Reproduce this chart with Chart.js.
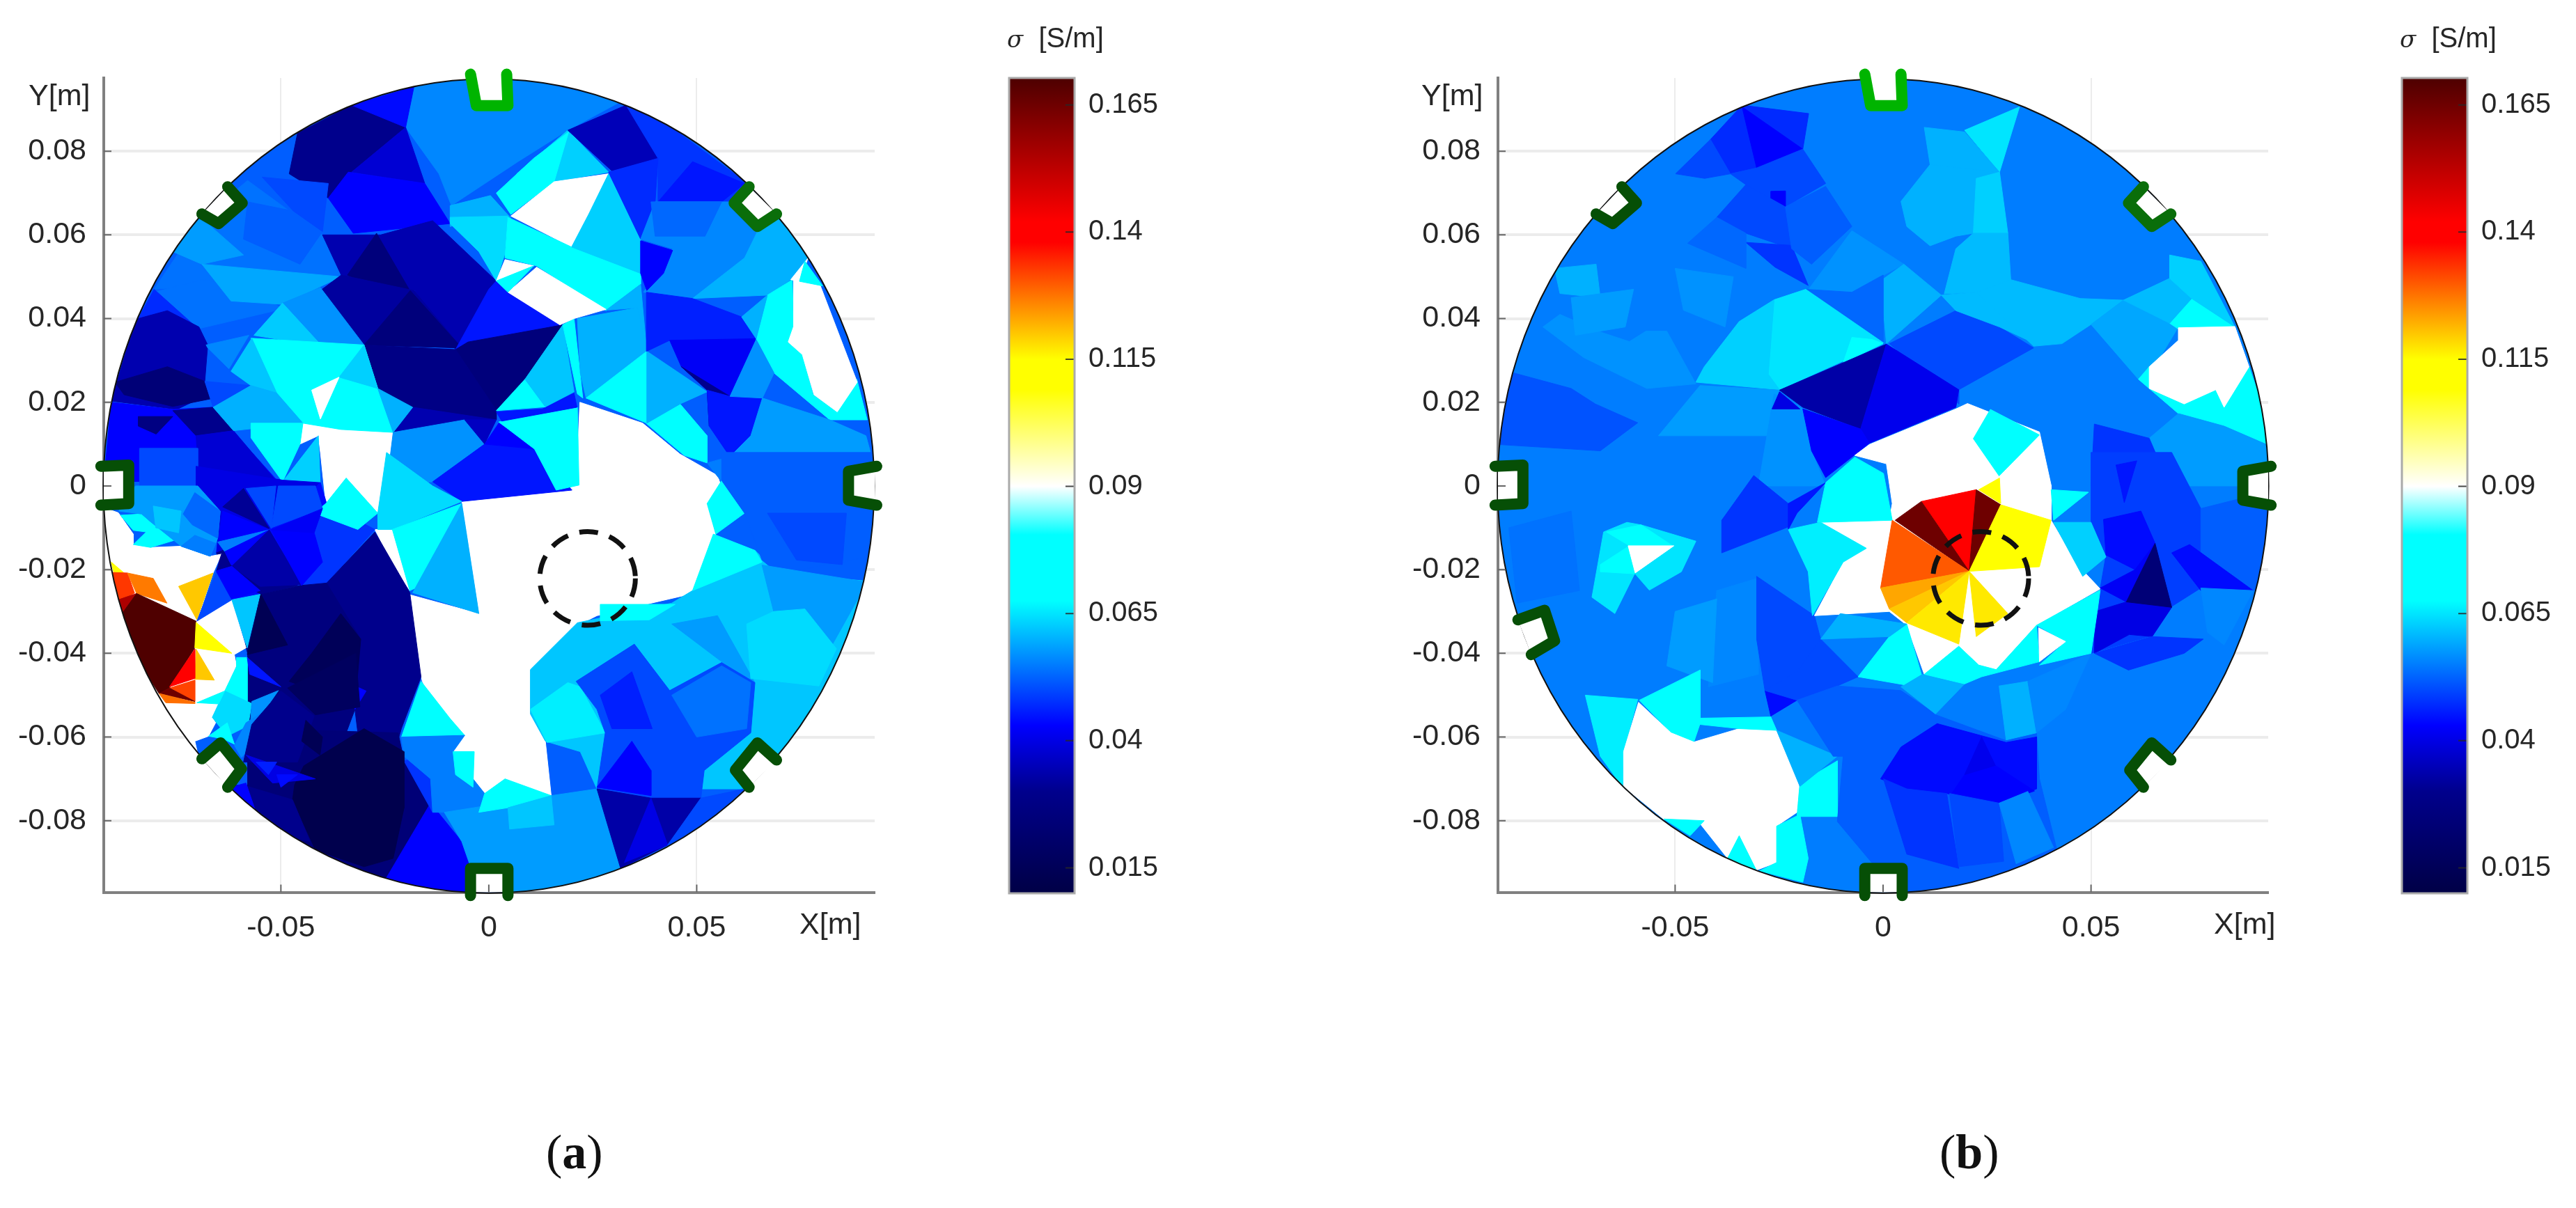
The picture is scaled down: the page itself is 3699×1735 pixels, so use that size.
<!DOCTYPE html>
<html>
<head>
<meta charset="utf-8">
<title>conductivity maps</title>
<script src="https://cdn.jsdelivr.net/npm/chart.js@4"></script>
<style>
  html, body { margin: 0; background: #fff; }
  #page { position: relative; width: 3699px; height: 1735px; overflow: hidden; }
  canvas { position: absolute; top: 0; }
  .lbl { position: absolute; font-family: "Liberation Sans", Arial, sans-serif; color: #262626; white-space: nowrap; line-height: 1; }
  .cap { position: absolute; font-family: "Liberation Serif", serif; font-size: 70px; color: #111; line-height: 1; }
</style>
</head>
<body>
<div id="page">
  <canvas id="mapA" width="1400" height="1400" style="left:0"></canvas>
  <canvas id="barA" width="300" height="1400" style="left:1400px"></canvas>
  <canvas id="mapB" width="1400" height="1400" style="left:2000px"></canvas>
  <canvas id="barB" width="300" height="1400" style="left:3400px"></canvas>

  <div class="lbl" style="left:41px;top:115px;font-size:43px">Y[m]</div>
  <div class="lbl" style="left:1148px;top:1305px;font-size:43px">X[m]</div>
  <div class="lbl" style="left:1446px;top:34px;font-size:40px"><i style="font-family:'DejaVu Serif';font-size:34px">σ</i>&nbsp; [S/m]</div>
  <div class="cap" style="left:784px;top:1620px">(<b>a</b>)</div>

  <div class="lbl" style="left:2041px;top:115px;font-size:43px">Y[m]</div>
  <div class="lbl" style="left:3179px;top:1305px;font-size:43px">X[m]</div>
  <div class="lbl" style="left:3446px;top:34px;font-size:40px"><i style="font-family:'DejaVu Serif';font-size:34px">σ</i>&nbsp; [S/m]</div>
  <div class="cap" style="left:2785px;top:1620px">(<b>b</b>)</div>
</div>

<script>
// axis ticks
const xTicks = [-0.05, 0, 0.05];
const yTicks = [-0.08, -0.06, -0.04, -0.02, 0, 0.02, 0.04, 0.06, 0.08];
const barTicks = [0.015, 0.04, 0.065, 0.09, 0.115, 0.14, 0.165];
const barRange = [0.01, 0.1703];

// colour scale [S/m]
const cmapValues = [0.01, 0.03, 0.043, 0.0675, 0.0805, 0.09, 0.109, 0.115, 0.138, 0.142, 0.1703];
const cmapColors = [[0,0,70],[0,0,140],[0,0,255],[0,255,255],[0,255,255],[255,255,255],[255,255,0],[255,255,0],[255,0,0],[255,0,0],[77,0,0]];

// mesh patches: [sigma S/m, x1,y1, x2,y2, ...] with x,y in mm, painted in this order
const sigmaBaseA = [0.052];
const sigmaBaseB = [0.055];

const whiteA = [
  [.09, 21.9,20, 37,15, 46,7.6, 55,2.5, 56,-.5, 52.5,-4.5, 54.5,-11.5, 50,-25.5, 26,-31, 20,-34, 10,-44.5, 10,-54.5, 13.6,-61, 15,-74, 3.9,-70, -1,-73.5, -3.8,-70, -3.8,-63.5, -8.6,-63.5, -5.8,-59.6, -12,-54.5, -16,-46.7, -18.3,-36.6, -19,-26, -2.4,-30.5, -6.5,-3.7, 21,.2],
  [.09, -44.7,15, -35.6,13.5, -23,12.8, -23.5,-2, -24.6,8, -26,-3, -26.7,-6.5, -34.3,1.9, -39.2,-4.2, -40.5,8, -41,12, -45.4,10],
  [.09, -27.4,-10.4, -23.2,-10.4, -19,-25, -23,-19],
];

const topA = [
  [.056, -18,96, 5,98, 32,92, 19,85, 7,77.5, -9,67, -12,74.6, -20,85.7],
  [.03, -33,91, -20,85.7, -33,75, -38.6,68.8, -48,74.6, -46,84.3],
  [.044, -33,91, -18,95.4, -20,85.7],
  [.038, -20,85.7, -15.4,72.3, -33,75],
  [.043, -33.8,75, -15.4,72.3, -9.3,62.7, -32.6,60.4, -38.6,68.8],
  [.054, -69,64, -80.5,47, -35.5,50.4, -40,60, -47,65, -58,73],
  [.054, -80.5,46.3, -69,49.3, -58,47.8, -49.6,42.3, -69.7,37.6, -84.3,39.6],
  [.058, -76,56, -69,53, -59,55.2, -67.6,62.7, -70.4,64.2],
  [.059, -69,53, -35.5,50, -49.6,43.4, -62,44.2],
  [.052, -47,65.7, -40,60.8, -45.4,53, -59,59, -58,67.9],
  [.05, -54.5,73.8, -38.6,72.3, -40,60.8, -47,65.7],
  [.034, -13.5,63.4, 1.8,49, -8,32.6, -17.9,46.7, -35.5,50.4, -40,60, -26,60],
  [.025, -27,60.4, -19,46.7, -27,47.4, -34,50.4],
  [.032, -40.5,46.7, -35.5,50.4, -18,46.7, -6.5,33, -30,33.7],
  [.025, -18.9,46.7, -6.5,33, -30,33.7],
  [.045, 1.8,49, 17.8,38.5, -5,34.4, -8,32.6, 0,47],
  [.025, -5,34.4, 17.8,38.5, 8.7,25.5, 1.8,18, -8,32.6],
  [.028, -30,33.7, -8,32.6, 1.8,18.1, 1.8,15.8, -18.3,18.8, -26.7,23.3],
  [.034, -18.3,18.8, 1.8,15.8, -23,12.8],
  [.047, -80.5,47, -84.3,40, -70.4,38],
  [.034, -84.3,40, -77.3,41.9, -69.7,38, -67.6,33.7, -68.3,25, -67.6,21.8, -75,18.3, -90.8,20.3, -86.6,34.4],
  [.024, -89.9,24.8, -77.3,28.5, -68.3,25, -67,20.8, -76,19, -87.7,21.8],
  [.043, -90.8,20, -76,18.3, -66.3,18.8, -61.4,12.9, -51,1.4, -92.6,1],
  [.027, -84.3,16.6, -76,16.6, -80,12.4, -84.3,14.3],
  [.03, -76,18, -66.3,18.8, -61.4,13.2, -70.4,12],
  [.038, -70.4,12, -61.4,13.2, -51,1, -69.7,1],
  [.05, -84,9, -70,9, -70,0, -84,0],
  [.056, -68,33.7, -57.7,36, -62.5,28, -67.6,33],
  [.057, -49.6,43.7, -40.5,47.4, -30,33.7, -40,33.3],
  [.0625, -56.5,36, -49.6,43.7, -40,33.3],
  [.072, -57.2,35.3, -30,33.7, -26.7,23.3, -23,12.8, -35.6,13.5, -44.7,15, -57.2,15, -51,22.2],
  [.063, -36,26, -30,33.7, -26.7,23.3],
  [.06, -26.7,23.3, -18.3,18.8, -23,12.8],
  [.09, -42.6,22.9, -36,26, -40.5,16],
  [.05, -68.3,25, -57.2,24, -66.3,18.8],
  [.062, -62,27.4, -57,35.3, -51,22.2, -57.2,24],
  [.06, -66.3,18.8, -57.2,24, -51,22.2, -44.7,15, -61.4,13.2],
  [.072, -57.2,15, -44.7,15, -45.4,10, -49.6,1, -57.2,11.5],
  [.063, -49.6,1, -41,12, -40.4,-3, -50,-3],
  [.057, -23,12.8, -5.8,15.8, -1,10, -13.5,1, -24.6,0],
  [.045, -1,10, 11.5,8.8, 20,-1, -6.5,-3.7, -13.5,1],
  [.036, -5.8,15.8, 1.8,15.8, -1,10],
  [.043, 2.4,15, 11.5,8.8, -1,10],
  [.072, 2.4,15.3, 21.3,18.8, 21.7,.2, 16.2,-1, 11,8.8],
  [.045, 1.8,17.7, 12.9,18.4, 20.5,22.2, 21.2,18.8, 3.1,15.5],
  [.07, 1.8,18, 8.7,25.5, 13.6,18.9],
  [.062, 8.7,25.5, 17.8,38.5, 20.5,22.5, 13.6,18.9],
  [.072, 17.8,38.5, 20.5,40, 22.6,21, 21.3,22],
  [.06, 21.3,40, 35.8,42.6, 38,32.2, 23.4,21, 22,27],
  [.072, 23.4,21, 38,32.2, 38,15],
  [.07, 37.8,15, 46,19.6, 52.5,12, 52.5,5.5, 47,7.3],
  [.06, 38,32.2, 52.5,22.5, 46,19.6, 38,15],
  [.063, 19,85, 28.8,75, 15.7,72.7, 6.7,74.6],
  [.07, 10.8,78.3, 19.2,84.6, 15.7,72.7, 5.3,64.9, 1.8,70],
  [.06, -9.3,67, .4,69.4, 5.3,64, -2.4,63.8, -9.3,62],
  [.064, -9.3,64.2, 4.6,64.5, 3.9,55.6, 1.8,49, -2.4,56, -9.3,62.7],
  [.09, 5.3,64.5, 15.7,72.7, 28.8,74.6, 24,64.9, 19.9,57.1],
  [.072, 4.6,64.2, 19.9,57.1, 28.8,58.2, 36.5,50.8, 36.5,48.2, 28.2,41.9, 11.5,52.6, 3.9,54.5],
  [.063, 28.8,74.6, 36.5,59, 36.5,50.8, 19.9,57.1, 24,64.9],
  [.09, 3.9,54.1, 10.8,52.6, 1.8,49],
  [.09, 4.6,46.3, 11.5,52.3, 28.2,42.2, 20.5,40, 17.1,38.5],
  [.072, 1.8,49, 10.8,52.6, 4.6,46.3],
  [.06, 28.2,42, 36.5,48.2, 38,32.2, 35.8,42.6],
  [.035, 33,91, 40.7,78.3, 29.6,75.3, 19,85],
  [.048, 33,91, 44.9,85, 62.2,72.3, 58.8,67.9, 40.7,67.9, 40.7,78.3],
  [.045, 49,77.5, 61.5,72.3, 56,67.9, 40.7,67.9],
  [.047, 28.8,75, 40.7,78.3, 40,67.9, 36.5,59],
  [.056, 40,67.9, 58.8,67.9, 64.6,60.8, 76.8,54.5, 72.6,49.3, 49,44.8, 37.2,46.3, 44.2,56.7, 36.5,59],
  [.053, 39,67.9, 56,67.9, 52,59.7, 40,59.7],
  [.043, 36.5,58.6, 44.2,56.3, 42,50.8, 38,46.7, 36.5,50.8],
  [.06, 64.6,60.8, 70,64.2, 76.8,54.5, 72.6,49.3, 67,45.6, 49,44.8, 61.5,54.5],
  [.046, 37.9,46.3, 49,44.8, 60.8,40.4, 64.3,35.2, 43.5,34.8, 38,32.2],
  [.042, 43.5,34.8, 64.3,35.2, 58,21.4, 52.5,22.9, 46.3,28.5],
  [.03, 46.3,28.5, 52.5,22.9, 53,14.3, 58,21.4],
  [.045, 52.5,22.9, 58,21.4, 65.8,21, 63,12.1, 58,7, 53,14.3],
  [.07, 67,45.6, 73,49.3, 73.3,38, 72,34.4, 75.4,31.4, 78,21.8, 83.8,17.7, 88.5,25.5, 91,15.8, 82,15.8, 68.6,27, 64.3,35],
  [.09, 73.3,49.3, 79.6,48.2, 88.6,24.8, 83.8,17.7, 78.2,21.8, 75.4,31.4, 72,34.4, 73.3,38.1],
  [.09, 72.6,49.3, 76.8,54.5, 74.7,48.9],
  [.07, 76,53.7, 80.3,47.8, 74.7,48.9],
  [.057, 64.3,35, 68.6,27, 65.8,21, 58,21.4],
  [.06, 60.8,40.4, 67,45.6, 64.3,35.2],
  [.058, 65.8,21, 82,15.8, 90.7,12, 94,0, 58,0, 58,7, 63,12],
  [.055, 52.5,5.5, 58,7, 57.3,0, 56,1],
];

const leftA = [
  [.04, -70.4,4.7, -49.6,1.4, -40.5,.8, -52.4,-10.4, -65.5,-16, -65.1,-12, -70.4,-7.6],
  [.03, -65.5,-16, -53,-11, -46,-23.8, -55,-26, -64,-20],
  [.044, -53,-10.4, -40.5,.8, -39,-4.2, -42,-11, -45.4,-23.8],
  [.048, -39.2,-4.2, -27.4,-10.4, -39,-23.2, -45.4,-23.8, -42,-11],
  [.072, -42,-6.5, -39.2,-4.2, -34.3,1.9, -26.7,-6.5, -31.5,-10.4],
  [.064, -26.7,-6.5, -24.6,8, -13.5,0, -6.5,-3.7, -23.2,-10.4, -26.7,-10.4],
  [.072, -23.2,-10.4, -6.5,-4.2, -17.6,-24.4, -19,-25],
  [.06, -6.5,-4.2, -2.4,-30.5, -18.3,-25.5],
  [.03, -27.4,-11, -19,-25.5, -16.3,-45.6, -21,-57.9, -21.6,-60, -31.5,-59, -32.2,-53.4, -31.5,-36.6, -37,-27.7, -39,-23.2],
  [.026, -55,-26, -45.4,-23.8, -39,-23.2, -30.8,-36.6, -32.2,-53.4, -34.3,-59, -58,-58, -58,-40, -58.6,-37.8],
  [.015, -35.6,-30.5, -30.8,-36.6, -32.2,-52.3, -48,-46.7, -42.6,-40],
  [.043, -32.2,-47.8, -29.5,-49, -32.2,-53.4],
];

const bottomA = [
  [.03, -62.8,-71.5, -40,-72, -24,-93, -24,-100, -62,-95],
  [.024, -58,-72, -58,-58, -21.8,-59, -20.4,-65.7, -14,-75.8, -15.4,-90, -24.6,-93.6, -30,-92, -45,-85],
  [.043, -24.6,-93.6, -14,-75.8, -6.5,-85, -4.4,-91, -5,-100, -24.6,-100],
  [.048, -20.4,-65.7, -10.7,-63.5, -8,-74.6, -13.5,-78],
  [.072, -16.3,-46.7, -9.3,-55.6, -5.8,-59.6, -21,-60],
  [.055, -21,-60, -5.8,-59.6, -8.6,-63.5, -3.8,-63.5, -3.8,-70, -1,-73.5, -2.4,-78, -10.7,-78, -13.5,-78, -14,-70, -20.4,-64.6],
  [.07, -8.6,-63.5, -3.5,-63.5, -3.8,-72, -8,-69],
  [.058, -10.7,-78, 15,-74, 26,-72.4, 31.7,-91.4, 21.3,-96, 6,-100, -4.4,-91, -6.5,-85],
  [.07, -1,-73.5, 3.9,-70, 15,-74, 4.6,-76.9, -2.4,-78],
  [.062, 4.6,-76.9, 15,-74, 15.7,-81, 5,-82],
  [.062, 10,-43.9, 21.3,-32.7, 44,-28, 49,-25, 64,-15.4, 69.7,-20.9, 94,-23, 94,-36.6, 63,-72.4, 26,-72.4, 22,-63.5, 13.6,-61, 10,-54.5],
  [.07, 49,-25, 54,-11.5, 64,-15.4, 65.7,-18.2],
  [.068, 52.5,-4.2, 56,1.3, 61.5,-6.5, 54.6,-11.5],
  [.075, 26.8,-28.3, 44.8,-28.3, 38.6,-32, 26.8,-32.2],
  [.052, 56,8, 94,8, 94,-16.5, 69.7,-21, 65.7,-17.7, 61.5,-6.5, 56,1.3],
  [.05, 67,-6.5, 86,-6.5, 85,-18.8, 74,-17.7],
  [.058, 65.7,-18.9, 68.5,-30, 76,-30, 82,-39, 91,-23],
  [.066, 22,-48, 28,-59, 14,-61.3, 10,-53.4, 19,-47],
  [.058, 44,-33, 55,-31, 64,-47, 56,-42],
  [.05, 21,-46.7, 35,-37.8, 43.5,-48.9, 56,-42.2, 64,-47, 63,-59, 51.8,-68, 51,-74.6, 39,-74.6, 26,-72.4, 28,-59, 26,-53.4],
  [.054, 44,-50, 56,-43, 63,-47, 62,-58, 50,-60],
  [.043, 34.4,-61, 39,-68, 39,-74, 26,-72],
  [.046, 26.8,-50, 34.4,-44.4, 39.3,-58, 29.6,-58],
  [.033, 26,-72.4, 39,-74.6, 51,-74.6, 43,-85.8, 31.7,-91.4],
  [.04, 39,-74.6, 43,-85.8, 32.6,-90],
  [.05, 51,-74.6, 61.5,-72.4, 50.5,-82.5, 43,-85.8],
  [.064, 68.5,-30, 76,-29.4, 83.6,-38.9, 79.4,-47.8, 63,-46, 62,-33],
];

// lower left of panel a, painted last
const hotA = [
  [.09, -96,-4, -89.1,-6.4, -85.5,-11.5, -85.5,-14, -81.3,-14.7, -74,-14.4, -67,-16.8, -64.3,-16.3, -66.3,-20.8, -70.2,-32.3, -61.8,-27.2, -58.4,-38.7, -61.2,-40.3, -60.7,-42.9, -63.5,-49, -70.2,-51.8, -65,-52.1, -66.5,-55.3, -65.7,-56.6, -67.4,-59.8, -70.7,-61, -70,-64, -110,-60, -110,-6],
  [.115, -90.8,-18.2, -87.7,-20.8, -90.2,-20.6],
  [.133, -92,-20.6, -86.9,-20.8, -85.2,-25.6, -88.6,-27.5, -92,-27.5],
  [.127, -86.9,-20.8, -80.7,-22.1, -77.4,-28, -84.7,-25.7],
  [.155, -90,-27.5, -84.7,-25.7, -86.3,-33.6, -90,-33.6],
  [.17, -84.7,-25.7, -70.4,-32.3, -70.7,-38.7, -76.8,-48.3, -79.3,-49.6, -90,-33],
  [.12, -74.6,-24, -66.3,-20.8, -70.2,-32],
  [.112, -70.4,-32.6, -61.8,-40, -70.7,-38.7],
  [.12, -70.4,-39, -66,-46.4, -70.7,-46.2],
  [.14, -70.7,-39, -70.7,-46, -76.8,-48],
  [.132, -76.8,-48.3, -70.7,-46.4, -70.7,-51.5],
  [.165, -79.3,-49.6, -76.8,-48.3, -70.7,-51.5],
  [.128, -79.3,-49.6, -70.7,-51.7, -70.7,-52, -77.7,-51.8],
  [.05, -65.5,-20.5, -61.8,-27.2, -70.2,-32.3],
  [.044, -65.5,-20.5, -55,-25.9, -61.8,-27.2],
  [.062, -61.8,-27.2, -55,-25.9, -58.1,-38.7],
  [.014, -54.8,-25.9, -48.4,-38, -58.1,-40.3],
  [.072, -60.7,-41, -58.1,-41, -58.1,-51.5, -63.5,-49, -60.7,-43.2],
  [.064, -63.5,-49, -57,-52, -57.9,-57.3, -62.9,-59.8, -66.5,-55.3, -65,-52.1],
  [.072, -70.2,-51.8, -63.5,-49, -65,-52.1],
  [.072, -67.4,-59.8, -62.9,-56.6, -61.2,-61.7, -64,-60.4],
  [.057, -57,-51.5, -50.6,-48.9, -54,-53.8, -57.3,-56.6],
  [.045, -58.1,-41, -50,-48, -57.5,-45],
  [.056, -58.4,-56.6, -54,-53.8, -51.7,-56.6, -59.5,-64.9, -61.2,-62],
  [.07, -88.6,-7, -83.5,-6.7, -81.3,-8.6, -74,-12.5, -81.3,-14.7, -85.5,-14, -82.4,-11, -85.5,-10.6],
  [.058, -85,0, -70,0, -64.6,-6, -65.2,-12.5, -67,-16.8, -74,-14.4, -81.3,-8.6, -83.5,-6.7, -89,-6],
  [.055, -74,-14.4, -70.7,-11.8, -65.7,-13.7, -67,-16.8],
  [.062, -80.7,-4.8, -74,-6, -74.6,-11.2, -80.1,-10],
  [.053, -70.7,-1.6, -64.6,-6, -65.2,-12.5, -71.3,-9.3, -73.5,-6.7],
  [.043, -64,-6, -52.8,-10.5, -65,-13.1],
  [.031, -64,-5, -59,-.6, -52.8,-10.2],
  [.055, -65.2,-13.4, -52.8,-10.5, -63.5,-15.7],
  [.043, -63.5,-15.7, -52.8,-10.5, -61.8,-19.2],
  [.03, -64.3,-16.3, -61.8,-19.2, -65.5,-20.3],
  [.033, -61.8,-19.2, -52.8,-10.5, -45,-23.6, -55,-24],
  [.043, -65.5,-20.3, -61.8,-19.2, -55,-25, -61.8,-27],
  [.043, -52.3,-10.5, -42,-11.2, -40,-18.2, -45,-23.8],
  [.05, -58.4,-.6, -52.3,-10.2, -51.2,0],
  [.05, -52.3,-10, -40,-5.4, -41.7,0, -50.6,0],
  [.042, -52.3,-10.5, -40,-5.4, -42,-11.2],
  [.017, -48.4,-48.3, -32,-40, -31,-52.8, -41.7,-54.7],
  [.03, -57,-57, -50,-49, -42,-55, -46,-66, -59,-66],
  [.014, -44,-56, -40,-60, -40.6,-64.3, -45,-61],
  [.012, -44.5,-66.9, -30,-58, -20.4,-63.5, -20.4,-77, -23,-89, -30,-91, -41.7,-87, -47.2,-75, -46.7,-71.4],
  [.04, -58.4,-64.3, -41.7,-70, -52,-71],
  [.046, -56,-66, -51,-66, -53,-69],
  [.044, -51,-69, -46,-69, -50,-72],
  [.03, -58.4,-71.7, -47.2,-75, -43,-85, -47.2,-84],
  [.043, -62,-72, -58.4,-71, -56,-78],
];

const topB = [
  [.047, -33.9,91, -17.9,89, -19.3,80.5, -30.4,76, -36.7,74.6, -41.5,82.8],
  [.043, -33.9,90.6, -19.3,80.5, -30.4,76],
  [.05, -49.9,74.6, -41.5,82.8, -36.7,74.6, -42.9,73.5],
  [.05, -36.7,74.6, -30.4,76, -19.3,80.5, -13.8,72.3, -23.5,66.7, -27,67, -33,72],
  [.043, -27,70.4, -23.5,70.5, -23.5,66.7, -27,67],
  [.05, -40,64.2, -33,72, -23.5,66.7, -22,56.7, -33,60.4],
  [.048, -33,58.2, -22,57.5, -18,47.9, -26,52.3],
  [.052, -23.5,66.7, -13.8,71.6, -7.5,62, -17.2,53, -22,56.7],
  [.053, -40,64.2, -33,60.4, -33,52, -47,58],
  [.065, 19.6,85, 32.8,90.6, 28,75],
  [.06, 9.9,85.7, 19.6,84.6, 28,75, 11.3,76.8],
  [.06, 4.3,68, 11.3,76.8, 28,75, 22.4,73.5, 30,60.4, 21.7,60.4, 17.5,59.7, 11.3,57.4, 5.7,62],
  [.063, 22.4,73.5, 28,75, 30,60.4, 21.7,60.4],
  [.061, 21.7,60.4, 30,60.4, 30.7,49.3, 22.4,46.3, 14.7,45.9, 17.5,56.7],
  [.057, -17.9,47, -7.5,61, 5,53, -7.5,46.3],
  [.06, 5,53, 14,45.6, .8,34, -.6,49],
  [.053, -18.6,47, -7.5,46.3, 0,50.4, 0,34],
  [.065, -18.6,47, .1,34.2, -24.9,23, -27.6,26.7, -26.2,44.5],
  [.07, -7.5,35.5, -2.6,35, 0,34, -9.6,29.4],
  [.063, -34.6,39.3, -26.2,44.5, -27.6,26.7, -24.9,23, -45,24.8, -43,28.5],
  [.05, 1.5,34, 17.5,41.9, 28,38, 36.2,33, 18.2,23, 18.2,19.6],
  [.061, 14,45.6, 22.4,46.3, 36.2,34.2, 28,38, 17.5,41.9],
  [.061, 30.7,49.3, 47.4,44.8, 57.8,44.4, 50,38.6, 43,34, 36.2,33.4, 22.4,46.3],
  [.059, 57.8,44.4, 68.9,38.9, 71,38, 64,26.4, 61.4,25.5, 50,38.6],
  [.07, 74.2,44.8, 84.6,38, 71,37.5, 68.9,38.9],
  [.061, 57.8,44.4, 68.9,49.6, 74.2,44.8, 68.9,38.9],
  [.063, 68.9,55.2, 76.4,53.7, 84.6,38, 74.2,44.8, 68.9,49.6],
  [.07, 61.4,25.5, 64,28.5, 64,23.3, 72.4,19.6, 80,23, 82,18.8, 88,28.5, 92,17, 92,10, 82,14.3, 71,17.3],
  [.09, 71,37.8, 84.6,38.1, 88,28.5, 82,18.8, 80,23, 72.4,19.6, 64,23.3, 64,28.5, 71,34.8],
  [.058, 71,17.3, 82,14.3, 92,10, 94,0, 69.4,0, 64,11.4],
  [.051, -88.8,27, -75,23.3, -69.2,19.6, -59,15.1, -68,8.4, -94,10],
  [.057, -81.8,38, -72,30.7, -56.8,23.3, -45,24.4, -52,37, -57,37, -61,34.5, -68,36.8, -77.7,41],
  [.06, -79,52, -69,53, -68,45, -77.7,46],
  [.058, -75,45, -60,47, -62,38, -74,36],
  [.057, -50,52, -36,50, -38,38, -48,42],
  [.058, -44,24, -24.9,22.9, -27.6,12, -54,12],
  [.057, -26.2,22, -19.3,18.4, -17.2,8.4, -13.8,0, -30,0],
  [.033, -24.9,22.9, .8,33.9, -5.4,13.6, -19.3,18.8],
  [.041, .8,33.9, 18.2,23, 17.5,18.8, -3.3,10.2, -5.4,13.6],
  [.04, -26.7,18.4, -20,18.4, -24.9,22.5],
  [.043, -19.3,18.4, -5.4,13.6, -3.3,10.2, -13.8,2, -17.2,8.4],
];

const midB = [
  [.09, -6.8,7.3, -3.3,9.9, 17.5,18.4, 20.3,19.7, 37.6,12.9, 40.4,.2, 40.4,-8.2, 46.7,-18.8, 52.2,-24.6, 36.9,-33.3, 27.2,-43.9, 23,-42.8, 18.2,-38.3, 9.9,-45, 5.7,-33.3, 1.5,-30, -16.5,-31, -9.6,-18.2, -4,-14.9, -15,-8.7, 1.5,-8.2, 2.2,-4.2, .8,5.3],
  [.072, 21.7,11.3, 25.8,18.3, 37.6,12.2, 27.9,2.4],
  [.072, -6.8,6.9, .1,3, 2.2,-8.2, -15.8,-8.7, -13.8,.8],
  [.066, -15,-8.7, -4,-14.9, -9.6,-18.2, -17,-31, -18,-20.5, -22.8,-10.4],
  [.14, 9.2,-3.7, 22.4,-.9, 20.7,-20.4],
  [.165, 2.9,-8.2, 9.2,-3.7, 20.7,-20.4],
  [.165, 22.4,-.9, 28.3,-4.5, 20.7,-20.4],
  [.13, 2.2,-8.2, 20.7,-20.4, -.6,-24.4],
  [.123, -.6,-24.4, 20.7,-20.4, 1.5,-29.4],
  [.12, 1.5,-29.4, 20.7,-20.4, 5.7,-32.7],
  [.117, 5.7,-32.7, 20.7,-20.4, 18.2,-37.8],
  [.117, 20.7,-20.4, 30,-30.5, 22.4,-36],
  [.112, 20.7,-20.4, 28.3,-4.5, 40.4,-8.2, 37.6,-19.3],
  [.112, 23,-.9, 28,1.9, 28.3,-4.2],
  [.072, 1.5,-36, 5.7,-33, 9.2,-45, 5,-47.5, -6,-45.6],
  [.06, -10.3,-30.5, 5.7,-33, 1.5,-36, -15,-36.6],
  [.072, 9.9,-45, 18.2,-38.3, 23,-42.8, 27.2,-43.9, 36.9,-33.3, 37.6,-42, 23.7,-45.6, 19.6,-47.3],
  [.068, 36.9,-33.3, 52.2,-24.9, 51.5,-30, 50,-40, 37.6,-42.8, 43.9,-37.2],
  [.09, 37.4,-33.9, 43.9,-37.2, 37.6,-42],
  [.07, 40.4,-.9, 49.4,-1.5, 41,-8.2],
  [.063, 41,-8.7, 50,-8.7, 53.6,-17, 48,-21.6],
];

const rightB = [
  [.048, 50.8,14.8, 64,11.4, 68.9,0, 50,0],
  [.049, 50,8, 69.4,8, 76.4,-5.4, 76.4,-24.4, 69.4,-28.8, 64,-36, 50,-40, 52.2,-24.6, 53.6,-16.5, 50,-8.7],
  [.045, 56,5, 61,6, 58,-4],
  [.044, 53,-8, 62,-6, 65.4,-13.7, 60.6,-20, 53.6,-16.5],
  [.042, 52.2,-24.4, 60.6,-20, 65.4,-13.7, 58.5,-27.7],
  [.04, 51,-30, 58.5,-27.7, 69.4,-29, 64.7,-36, 59.2,-35.5, 50.8,-40],
  [.024, 58.5,-27.7, 65.4,-13.7, 69.4,-29],
  [.052, 76.4,-5.4, 94,-1, 94,-25, 76.4,-24.4],
  [.044, 73.7,-14, 89,-25, 76.4,-25, 69.4,-16],
  [.056, 76.4,-24.4, 89,-25, 82,-38, 78,-35],
  [.048, 50.8,-40, 64.7,-36, 77,-36.6, 72.4,-40, 59,-44],
];

const lowerB = [
  [.054, -90,-10, -75,-6, -73,-25, -88,-28],
  [.056, -40,-25, -30,-22, -30,-45, -42,-48],
  [.058, -50,-30, -40,-27, -41,-47, -52,-43],
  [.065, -70,-26.6, -67.2,-11, -61.6,-8.7, -58.2,-9.3, -45,-13.2, -48.5,-20.5, -56.2,-24.9, -59.7,-20.9, -64.5,-30.5],
  [.072, -68,-18.8, -61,-14.3, -59.7,-21, -68,-20.5],
  [.072, -66.5,-11, -58.2,-9.3, -50.6,-14.3, -61,-14.3],
  [.09, -61.3,-14.3, -50.3,-14.3, -59.6,-20.8],
  [.048, -38.8,-8.2, -31.1,2.5, -22.8,-4.2, -22.8,-9.8, -38.8,-16],
  [.045, -22.8,-4.2, -13.8,.8, -20.7,-6.5, -22.8,-10.4],
  [.05, -30.4,-21.6, -16.5,-31, -15,-36.6, -20.7,-44.4, -28.4,-48.9, -30.4,-36.6],
  [.044, -28.4,-48.9, -20.7,-51.2, -27,-55],
  [.05, -15,-36.6, -6,-45.6, -11,-47.8, -20.7,-51.2, -28.4,-48.9, -20.7,-44.4],
  [.07, -58.6,-51.2, -44,-44, -44,-56.8, -45.5,-61.2, -51,-59],
  [.066, -71.6,-50, -59,-51, -62.4,-63.5, -62.6,-72, -68,-64.6],
  [.09, -58.8,-51.7, -51,-59, -45.5,-61.2, -34.6,-58, -25.6,-58.4, -20,-71, -20.7,-78, -25.6,-81.3, -25.6,-90, -30.4,-91.8, -34.6,-83.6, -37.4,-89, -44.4,-80.2, -52.7,-79.7, -62.4,-71.9, -62.4,-63.5],
  [.072, -52.7,-79.6, -43,-80, -46.4,-83.6],
  [.072, -34.6,-83.6, -30.4,-92, -37.4,-89],
  [.07, -44,-57, -34.6,-58, -25.6,-58.4, -27,-55.2, -44,-55.5],
  [.072, -25.6,-81.3, -20,-78.5, -18,-89, -19.3,-94.7, -29.7,-92, -25.6,-90],
  [.07, -20,-71, -11,-65.7, -11,-79, -20.7,-79],
  [.06, -25.6,-58.4, -11,-64.6, -20,-71.8],
  [.052, -11,-47.8, 4.3,-48.9, 12.6,-54.5, 29.6,-60.7, 36.9,-59, 37.6,-70, 41.8,-87, 23.7,-96, 5.7,-100, -11,-80.2, -9.6,-64.6, -12,-64.6, -20.7,-51.2],
  [.044, 4.3,-62.4, 13,-56.8, 29.6,-61.3, 36.9,-60, 36.9,-72.4, 27.9,-75.8, 15.3,-73.5, 5.7,-72.4, -.6,-70],
  [.043, 19.6,-69, 27,-66.8, 36.4,-72.9, 27.9,-75.8, 16.5,-73.5],
  [.041, 19.6,-69, 23.7,-60, 27,-66.8],
  [.048, 5.7,-72.4, 15.3,-73.5, 18.2,-91.4, 5.7,-88, .1,-70],
  [.05, 16,-73.5, 27.9,-75.8, 29,-89.7, 18.2,-91],
  [.056, 27.9,-75.8, 34.8,-73, 41,-86.4, 32,-90.3],
  [.055, 12.6,-54.5, 21,-46, 27.2,-46, 29.6,-60.7],
  [.06, 27.9,-47.8, 34.8,-46.7, 36.9,-59, 29.6,-60.7],
  [.06, 4.3,-48, 9.2,-45, 19.6,-47.3, 12.6,-54.5],
  [.056, 34.8,-46.7, 50,-40, 43.9,-53.4, 36.9,-59],
];

const baseEllipse = [-100,-100, 100,-100, 100,100, -100,100];

// electrodes, mm: [x1,y1, ...]
const electrodesA = [
  [-4.4,98.4, -3,90.9, 4.6,90.9, 4.3,98.4],
  [-62.8,71.5, -59.3,67.6, -65,62.7, -69,65],
  [62.6,71.5, 59,67.6, 64.6,62, 69.2,65],
  [-93.3,4.7, -86.6,5, -86.6,-4.2, -93.3,-4.6],
  [93.3,4.7, 86.5,3.5, 86.5,-3.4, 93.3,-4.6],
  [-69,-65.2, -64.5,-61.4, -59.5,-67.6, -62.8,-72],
  [69.2,-65.5, 64.6,-61.4, 59.3,-67.9, 62.6,-72],
  [-4.4,-97.9, -4.4,-91.4, 4.6,-91.4, 4.6,-97.9],
];
const electrodesB = [
  [-4.4,98.4, -3,90.9, 4.6,90.9, 4.3,98.4],
  [-62.8,71.5, -59.3,67.6, -65,62.7, -69,65],
  [62.6,71.5, 59,67.6, 64.6,62, 69.2,65],
  [-93.3,4.7, -86.6,5, -86.6,-4.2, -93.3,-4.6],
  [93.3,4.7, 86.5,3.5, 86.5,-3.4, 93.3,-4.6],
  [-87.8,-32, -81.4,-29.7, -79,-37, -84.6,-40.3],
  [69.2,-65.5, 64.6,-61.4, 59.3,-67.9, 62.6,-72],
  [-4.4,-97.9, -4.4,-91.4, 4.6,-91.4, 4.6,-97.9],
];
const electrodeColors = ['#00b400', '#064f06', '#0a6e0a', '#064f06', '#064f06', '#064f06', '#064f06', '#064f06'];

// tank outline and target (mm)
const tankRadius = [92.7, 97.3];
const targetA = [23.75, -22.1, 11.5, 11.2];
const targetB = [23.5, -22.1, 11.5, 11.2];

function sigmaColor(v) {
  let i = 0;
  while (i < cmapValues.length - 2 && v > cmapValues[i + 1]) i++;
  const t = Math.min(1, Math.max(0, (v - cmapValues[i]) / (cmapValues[i + 1] - cmapValues[i])));
  const c = cmapColors[i].map((a, k) => Math.round(a + (cmapColors[i + 1][k] - a) * t));
  return `rgb(${c[0]},${c[1]},${c[2]})`;
}

function toPoints(flat) {
  const pts = [];
  for (let i = 0; i < flat.length; i += 2) pts.push({ x: flat[i] / 1000, y: flat[i + 1] / 1000 });
  return pts;
}

function cellDataset(cell) {
  const pts = toPoints(cell.slice(1));
  pts.push(pts[0]);
  const col = sigmaColor(cell[0]);
  return { data: pts, showLine: true, fill: 'shape', backgroundColor: col, borderColor: col, borderWidth: 1, pointRadius: 0, tension: 0 };
}

function makeMap(id, cells, electrodes, target, area, xRange) {
  // chart.js paints the last dataset first
  const cellSets = cells.map(cellDataset).reverse();
  const elecSets = electrodes.map((e, i) => ({
    isElectrode: true, data: toPoints(e), showLine: true, fill: 'shape', backgroundColor: '#fff', clip: false,
    borderColor: electrodeColors[i], borderWidth: 16, borderCapStyle: 'round', borderJoinStyle: 'round', pointRadius: 0,
  }));

  const ellipsePath = (chart) => {
    const { x, y } = chart.scales;
    const cx = x.getPixelForValue(0), cy = y.getPixelForValue(0);
    const ctx = chart.ctx;
    ctx.beginPath();
    ctx.ellipse(cx, cy, x.getPixelForValue(tankRadius[0] / 1000) - cx, cy - y.getPixelForValue(tankRadius[1] / 1000), 0, 0, Math.PI * 2);
  };

  const tank = {
    id: 'tank',
    beforeDatasetsDraw(chart) {
      chart.$clipped = true;
      chart.ctx.save();
      ellipsePath(chart);
      chart.ctx.clip();
    },
    beforeDatasetDraw(chart, args) {
      if (!chart.$clipped || !chart.data.datasets[args.index].isElectrode) return;
      chart.$clipped = false;
      const ctx = chart.ctx;
      ctx.restore();
      const { x, y } = chart.scales;
      ctx.save();
      ctx.strokeStyle = '#111';
      ctx.lineWidth = 2;
      ellipsePath(chart);
      ctx.stroke();
      // target ring
      const cx = x.getPixelForValue(target[0] / 1000), cy = y.getPixelForValue(target[1] / 1000);
      ctx.lineWidth = 7;
      ctx.setLineDash([27, 17]);
      ctx.beginPath();
      ctx.ellipse(cx, cy, x.getPixelForValue((target[0] + target[2]) / 1000) - cx, cy - y.getPixelForValue((target[1] + target[3]) / 1000), 0, 0, Math.PI * 2);
      ctx.stroke();
      ctx.restore();
    },
    afterDraw(chart) {
      // short inner tick marks
      const ctx = chart.ctx, { x, y } = chart.scales, a = chart.chartArea;
      ctx.save();
      ctx.strokeStyle = '#666';
      ctx.lineWidth = 2;
      ctx.beginPath();
      xTicks.forEach((t) => { const p = x.getPixelForValue(t); ctx.moveTo(p, a.bottom); ctx.lineTo(p, a.bottom - 11); });
      yTicks.forEach((t) => { const p = y.getPixelForValue(t); ctx.moveTo(a.left, p); ctx.lineTo(a.left + 11, p); });
      ctx.stroke();
      ctx.restore();
    },
  };

  new Chart(document.getElementById(id), {
    type: 'scatter',
    data: { datasets: [...elecSets, ...cellSets] },
    options: {
      responsive: false,
      animation: false,
      events: [],
      layout: { padding: { top: area.top, right: area.right, left: 0, bottom: 0 } },
      plugins: { legend: { display: false }, tooltip: { enabled: false } },
      scales: {
        x: {
          type: 'linear', min: xRange[0], max: xRange[1],
          afterFit: (s) => { s.height = 118.5; },
          afterBuildTicks: (s) => { s.ticks = xTicks.map((v) => ({ value: v })); },
          grid: { color: '#ececec', lineWidth: 2, drawTicks: false },
          border: { display: true, color: '#808080', width: 4 },
          ticks: { font: { family: 'Liberation Sans', size: 43 }, color: '#262626', padding: 26, autoSkip: false, maxRotation: 0, callback: (v) => String(v) },
        },
        y: {
          type: 'linear', min: -0.0971, max: 0.0975,
          afterFit: (s) => { s.width = area.left; },
          afterBuildTicks: (s) => { s.ticks = yTicks.map((v) => ({ value: v })); },
          grid: { color: '#ececec', lineWidth: 4, drawTicks: false },
          border: { display: true, color: '#808080', width: 4 },
          ticks: { font: { family: 'Liberation Sans', size: 43 }, color: '#262626', padding: 25, autoSkip: false, callback: (v) => String(v) },
        },
      },
    },
    plugins: [tank],
  });
}

function makeBar(id) {
  const gradientFill = (c) => {
    const { chart } = c;
    if (!chart.chartArea) return '#000';
    const { y } = chart.scales;
    const g = chart.ctx.createLinearGradient(0, y.getPixelForValue(barRange[0]), 0, y.getPixelForValue(barRange[1]));
    cmapValues.forEach((v) => g.addColorStop((v - barRange[0]) / (barRange[1] - barRange[0]), sigmaColor(v)));
    return g;
  };
  const tickMarks = {
    id: 'tickMarks',
    afterDatasetsDraw(chart) {
      const ctx = chart.ctx, { y } = chart.scales, a = chart.chartArea;
      ctx.save();
      ctx.strokeStyle = 'rgba(40,40,40,0.85)';
      ctx.lineWidth = 2;
      ctx.beginPath();
      barTicks.forEach((t) => { const p = y.getPixelForValue(t); ctx.moveTo(a.right, p); ctx.lineTo(a.right - 13, p); });
      ctx.stroke();
      ctx.strokeStyle = '#aaa';
      ctx.lineWidth = 3;
      ctx.strokeRect(a.left, a.top, a.right - a.left, a.bottom - a.top);
      ctx.restore();
    },
  };
  new Chart(document.getElementById(id), {
    type: 'bar',
    data: { labels: ['sigma'], datasets: [{ data: [barRange], backgroundColor: gradientFill, barPercentage: 1, categoryPercentage: 1 }] },
    options: {
      responsive: false,
      animation: false,
      events: [],
      layout: { padding: { top: 112, left: 49, bottom: 117, right: 0 } },
      plugins: { legend: { display: false }, tooltip: { enabled: false } },
      scales: {
        x: { display: false },
        y: {
          position: 'right', min: barRange[0], max: barRange[1],
          afterFit: (s) => { s.width = 157; },
          afterBuildTicks: (s) => { s.ticks = barTicks.map((v) => ({ value: v })); },
          grid: { display: false },
          border: { display: false },
          ticks: { font: { family: 'Liberation Sans', size: 40 }, color: '#262626', padding: 12, autoSkip: false, callback: (v) => String(v) },
        },
      },
    },
    plugins: [tickMarks],
  });
}

const cellsA = [[sigmaBaseA[0], ...baseEllipse], ...whiteA, ...topA, ...leftA, ...bottomA, ...hotA];
const cellsB = [[sigmaBaseB[0], ...baseEllipse], ...topB, ...lowerB, ...rightB, ...midB];

makeMap('mapA', cellsA, electrodesA, targetA, { top: 112, left: 149, right: 144 }, [-0.0926, 0.0928]);
makeMap('mapB', cellsB, electrodesB, targetB, { top: 112, left: 151, right: 143 }, [-0.0926, 0.0926]);
makeBar('barA');
makeBar('barB');
</script>
</body>
</html>
